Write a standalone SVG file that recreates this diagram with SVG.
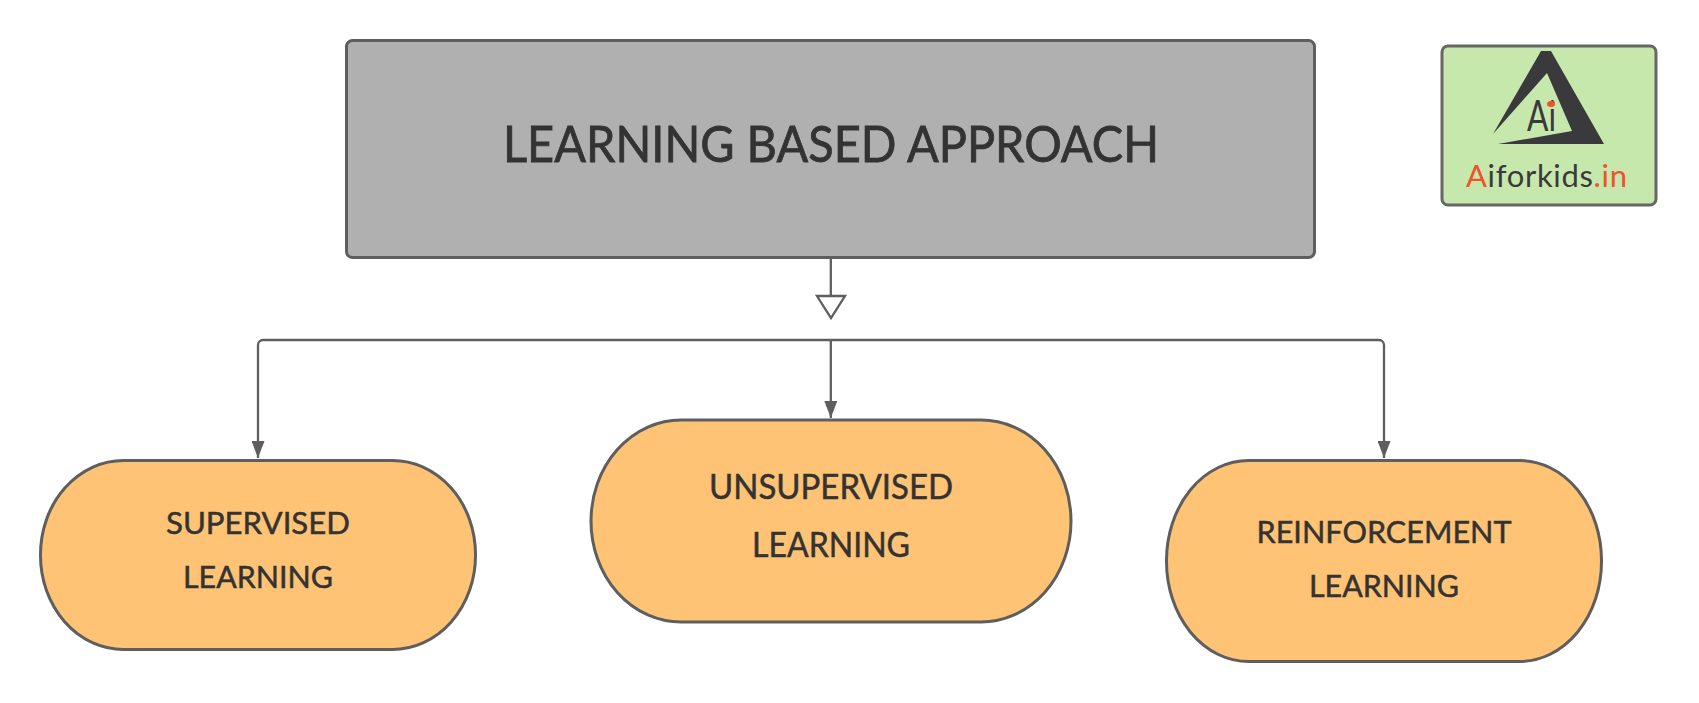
<svg xmlns="http://www.w3.org/2000/svg" width="1699" height="703" viewBox="0 0 1699 703">
<style>
.box{stroke:#5e5e5e;stroke-width:3}
.pill{fill:#fec374}
.lbl{font-family:"Lato","Liberation Sans",sans-serif;fill:#333;stroke:#333;stroke-width:.5;text-anchor:middle;font-size:31px}
.big{font-size:34px}
.wire{fill:none;stroke:#5e5e5e;stroke-width:2.3}
</style>
<defs>
<marker id="solid" markerUnits="userSpaceOnUse" markerWidth="18" markerHeight="13" refX="17" refY="6.5" orient="auto" viewBox="0 0 18 13"><path d="M0 0L17 6.5L0 13Z" fill="#5e5e5e"/></marker>
</defs>
<rect width="1699" height="703" fill="#fff"/>
<g id="connectors">
<path class="wire" d="M830.8 258V296"/>
<path d="M817 296H845L831 318Z" fill="#fff" stroke="#5e5e5e" stroke-width="2.3"/>
<path class="wire" d="M830.8 340H263a5 5 0 0 0-5 5V458" marker-end="url(#solid)"/>
<path class="wire" d="M830.8 340H1379a5 5 0 0 1 5 5V458" marker-end="url(#solid)"/>
<path class="wire" d="M830.8 340V418" marker-end="url(#solid)"/>
</g>
<g id="title">
<rect class="box" x="346.5" y="40.5" width="968" height="217" rx="6" fill="#b0b0b0"/>
<text class="lbl" x="831" y="162" style="font-size:50px;stroke-width:.8" textLength="656" lengthAdjust="spacingAndGlyphs">LEARNING BASED APPROACH</text>
</g>
<g id="supervised">
<rect class="box pill" x="40.5" y="460.5" width="435" height="189" rx="83" ry="94"/>
<text class="lbl" x="258" y="534" textLength="184" lengthAdjust="spacingAndGlyphs">SUPERVISED</text>
<text class="lbl" x="258" y="588" textLength="150" lengthAdjust="spacingAndGlyphs">LEARNING</text>
</g>
<g id="unsupervised">
<rect class="box pill" x="591" y="420" width="480" height="202" rx="90" ry="101"/>
<text class="lbl big" x="831" y="499" textLength="244" lengthAdjust="spacingAndGlyphs">UNSUPERVISED</text>
<text class="lbl big" x="831" y="557" textLength="158" lengthAdjust="spacingAndGlyphs">LEARNING</text>
</g>
<g id="reinforcement">
<rect class="box pill" x="1166.5" y="460.5" width="435" height="201" rx="82" ry="100"/>
<text class="lbl" x="1384" y="543" textLength="255" lengthAdjust="spacingAndGlyphs">REINFORCEMENT</text>
<text class="lbl" x="1384" y="597" textLength="150" lengthAdjust="spacingAndGlyphs">LEARNING</text>
</g>
<g id="logo">
<rect x="1442" y="46" width="214" height="159" rx="6" fill="#c7e8ac" stroke="#666" stroke-width="3"/>
<path d="M1541 51H1551L1604 144H1498L1572 131L1547 73L1493 134Z" fill="#3a3a3c"/>
<text x="1527" y="131" font-family="Lato,'Liberation Sans',sans-serif" font-size="43" fill="#3a3a3c" textLength="29" lengthAdjust="spacingAndGlyphs">Ai</text>
<ellipse cx="1551" cy="104" rx="4" ry="3" fill="#f0522d"/>
<text x="1546.5" y="187" font-family="Lato,'Liberation Sans',sans-serif" font-size="31" fill="#3a3a3c" text-anchor="middle" textLength="161"><tspan fill="#f0522d">A</tspan>iforkids<tspan fill="#f0522d">.in</tspan></text>
</g>
</svg>
